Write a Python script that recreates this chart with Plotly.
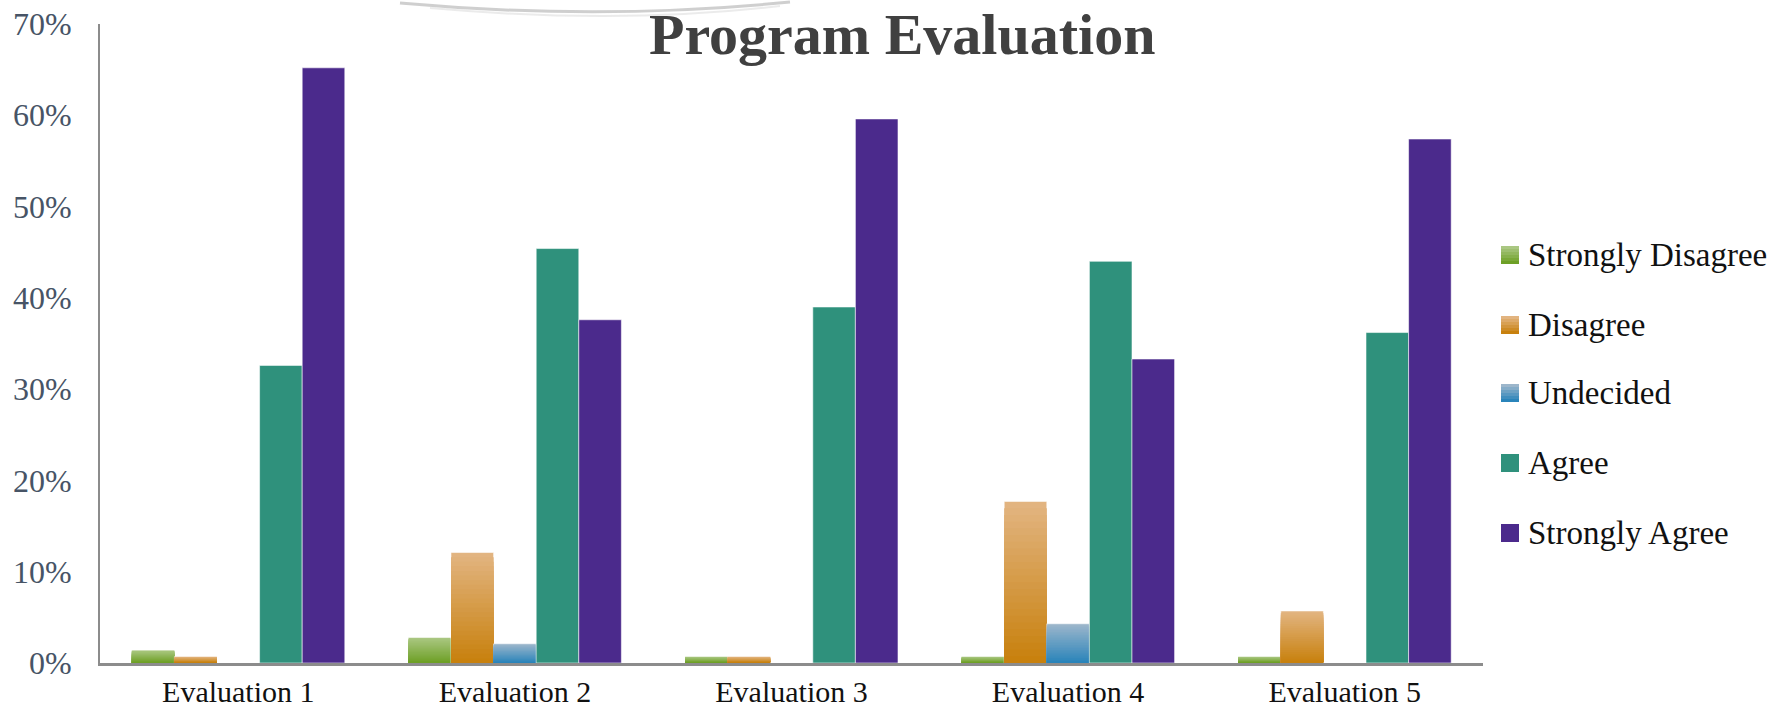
import plotly.graph_objects as go

# Survey responses (% of respondents) per evaluation
categories = ["Evaluation 1", "Evaluation 2", "Evaluation 3", "Evaluation 4", "Evaluation 5"]
series_names = ["Strongly Disagree", "Disagree", "Undecided", "Agree", "Strongly Agree"]

strongly_disagree = [1.4, 2.8, 0.7, 0.7, 0.7]
disagree = [0.7, 12.1, 0.7, 17.7, 5.7]
undecided = [0, 2.1, 0, 4.3, 0]
agree = [32.6, 45.4, 39.0, 44.0, 36.2]
strongly_agree = [65.2, 37.6, 59.6, 33.3, 57.4]

y_ticks = [0, 10, 20, 30, 40, 50, 60, 70]

series_values = [strongly_disagree, disagree, undecided, agree, strongly_agree]

# (top colour, bottom colour) per series; solid series use the same colour twice
series_colors = [
    ((170, 199, 130), (110, 160, 38)),
    ((226, 180, 128), (200, 129, 14)),
    ((156, 182, 203), (42, 132, 186)),
    ((47, 145, 124), (47, 145, 124)),
    ((75, 42, 140), (75, 42, 140)),
]

SERIF = "Liberation Serif, Times New Roman, serif"
N_LAYERS = 24

# plot area in pixels
W, H = 1781, 712
L, R, T, B = 100, 298, 24, 49


def mix(c0, c1, t):
    return "rgb({},{},{})".format(*[round(a + (b - a) * t) for a, b in zip(c0, c1)])


def px_x(x):
    return (x - L) / (W - L - R)


def px_y(y):
    return (H - B - y) / (H - T - B)


fig = go.Figure()

for idx, (name, vals, (top, bot)) in enumerate(zip(series_names, series_values, series_colors)):
    if top == bot:
        fig.add_trace(go.Bar(
            x=categories, y=vals, name=name, offsetgroup=str(idx),
            marker=dict(color=mix(top, bot, 0), line=dict(color="rgba(255,255,255,0.55)", width=1)),
        ))
        continue
    # vertical gradient: shorter, darker layers drawn over taller, lighter ones
    for k in range(N_LAYERS):
        frac = (N_LAYERS - k) / N_LAYERS
        fig.add_trace(go.Bar(
            x=categories, y=[v * frac for v in vals], name=name, offsetgroup=str(idx),
            marker=dict(color=mix(top, bot, k / (N_LAYERS - 1)),
                        line=dict(color="rgba(255,255,255,0.55)" if k == 0 else "rgba(0,0,0,0)",
                                  width=1 if k == 0 else 0)),
        ))

shapes = []
annotations = []

# legend: gradient squares with labels
legend_y = [255, 325, 393, 463, 533]
for name, (top, bot), cy in zip(series_names, series_colors, legend_y):
    n = 6
    for k in range(n):
        y0 = cy - 9 + k * 3
        shapes.append(dict(
            type="rect", xref="paper", yref="paper",
            x0=px_x(1501), x1=px_x(1519), y0=px_y(y0 + 3), y1=px_y(y0),
            fillcolor=mix(top, bot, k / (n - 1)), line=dict(width=0),
        ))
    annotations.append(dict(
        text=name, xref="paper", yref="paper", x=px_x(1526), y=px_y(cy),
        xanchor="left", yanchor="middle", showarrow=False,
        font=dict(family=SERIF, size=33, color="#111111"),
    ))

# decorative swoosh near the title
shapes.append(dict(
    type="path", xref="paper", yref="paper",
    path="M {},{} Q {},{} {},{}".format(px_x(400), px_y(3), px_x(600), px_y(21), px_x(790), px_y(2)),
    line=dict(color="rgba(175,175,175,0.6)", width=3),
))
shapes.append(dict(
    type="path", xref="paper", yref="paper",
    path="M {},{} Q {},{} {},{}".format(px_x(430), px_y(8), px_x(620), px_y(25), px_x(780), px_y(6)),
    line=dict(color="rgba(205,205,205,0.4)", width=2),
))

annotations.append(dict(
    text="<b>Program Evaluation</b>", xref="paper", yref="paper",
    x=px_x(902), y=px_y(0), xanchor="center", yanchor="top", showarrow=False,
    font=dict(family=SERIF, size=58, color="#404040"),
))

fig.update_layout(
    width=W, height=H,
    margin=dict(l=L, r=R, t=T, b=B, pad=0),
    paper_bgcolor="white", plot_bgcolor="white",
    barmode="group", bargap=0.23, bargroupgap=0,
    showlegend=False,
    shapes=shapes, annotations=annotations,
    xaxis=dict(
        showgrid=False, showline=True, linecolor="#8c8c8c", linewidth=3,
        ticks="", ticklabelstandoff=0, automargin=False,
        tickfont=dict(family=SERIF, size=30, color="#111111"),
    ),
    yaxis=dict(
        range=[0, 70], tickvals=y_ticks, ticktext=[f"{v}%" for v in y_ticks],
        showgrid=False, zeroline=False, showline=True, linecolor="#8c8c8c", linewidth=2,
        ticks="", ticklabelstandoff=20, automargin=False,
        tickfont=dict(family=SERIF, size=32, color="#475466"),
    ),
)

fig.write_html("out.html")
